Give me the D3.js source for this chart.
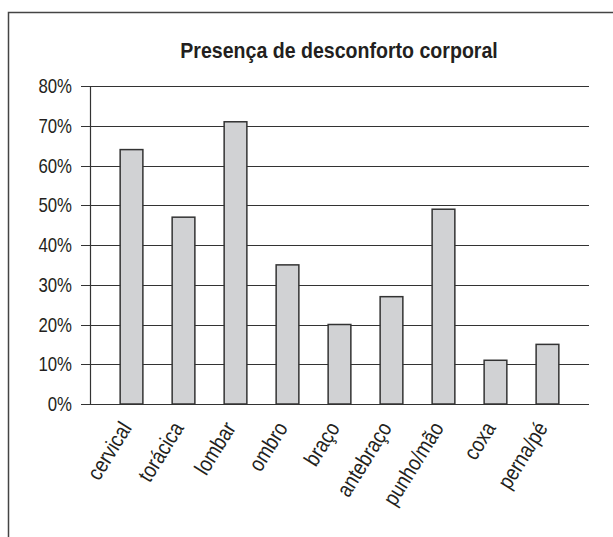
<!DOCTYPE html>
<html>
<head>
<meta charset="utf-8">
<style>
body { margin: 0; background: #fff; }
text { font-family: "Liberation Sans", Arial, sans-serif; fill: #231f20; }
.title { font-weight: bold; font-size: 22px; }
.tick-label { font-size: 20px; }
.cat-label { font-size: 22px; }
</style>
<script src="https://cdn.jsdelivr.net/npm/d3@7/dist/d3.min.js"></script>
</head>
<body>
<script>
// data
var categories = ["cervical", "torácica", "lombar", "ombro", "braço", "antebraço", "punho/mão", "coxa", "perna/pé"];
var values = [64, 47, 71, 35, 20, 27, 49, 11, 15];
var yTicks = [0, 10, 20, 30, 40, 50, 60, 70, 80];
var title = "Presença de desconforto corporal";

var width = 613, height = 537;
var plotLeft = 90, plotRight = 589, plotTop = 86, plotBottom = 404;
var narrow = 0.84; // squeeze to look like a condensed face

var svg = d3.select("body").append("svg")
    .attr("width", width)
    .attr("height", height);

// frame (cropped on the right and bottom)
svg.append("rect")
    .attr("x", 8.5).attr("y", 12.5)
    .attr("width", 800).attr("height", 800)
    .attr("fill", "none")
    .attr("stroke", "#444")
    .attr("stroke-width", 1.5);

var x = d3.scaleBand()
    .domain(categories)
    .range([plotLeft, plotRight])
    .paddingInner(0.563)
    .paddingOuter(0.58);

var y = d3.scaleLinear()
    .domain([0, 80])
    .range([plotBottom, plotTop]);

// gridlines
svg.append("g")
  .selectAll("line")
  .data(yTicks)
  .enter().append("line")
    .attr("x1", plotLeft - 9).attr("x2", plotRight)
    .attr("y1", function(d) { return Math.round(y(d)) + 0.5; })
    .attr("y2", function(d) { return Math.round(y(d)) + 0.5; })
    .attr("stroke", "#333")
    .attr("stroke-width", 1.2);

// y axis line
svg.append("line")
    .attr("x1", plotLeft + 0.5).attr("x2", plotLeft + 0.5)
    .attr("y1", y(80)).attr("y2", y(0))
    .attr("stroke", "#333")
    .attr("stroke-width", 1.2);

svg.append("g")
  .selectAll("text")
  .data(yTicks)
  .enter().append("text")
    .attr("class", "tick-label")
    .attr("transform", function(d) {
      return "translate(72," + y(d) + ") scale(" + narrow + ",1)";
    })
    .attr("dy", "0.36em")
    .attr("text-anchor", "end")
    .text(function(d) { return d + "%"; });

// bars
svg.append("g")
  .selectAll("rect")
  .data(values)
  .enter().append("rect")
    .attr("x", function(d, i) { return x(categories[i]); })
    .attr("y", function(d) { return y(d); })
    .attr("width", x.bandwidth())
    .attr("height", function(d) { return y(0) - y(d); })
    .attr("fill", "#d1d2d4")
    .attr("stroke", "#333")
    .attr("stroke-width", 1.5);

// category labels, rotated
svg.append("g")
  .selectAll("text")
  .data(categories)
  .enter().append("text")
    .attr("class", "cat-label")
    .attr("text-anchor", "end")
    .attr("transform", function(d) {
      var cx = x(d) + x.bandwidth() / 2 + 1;
      return "translate(" + cx + ",428) rotate(-58) scale(0.85,1)";
    })
    .text(function(d) { return d; });

svg.append("text")
    .attr("class", "title")
    .attr("transform", "translate(339,58) scale(0.89,1)")
    .attr("text-anchor", "middle")
    .text(title);
</script>
</body>
</html>
